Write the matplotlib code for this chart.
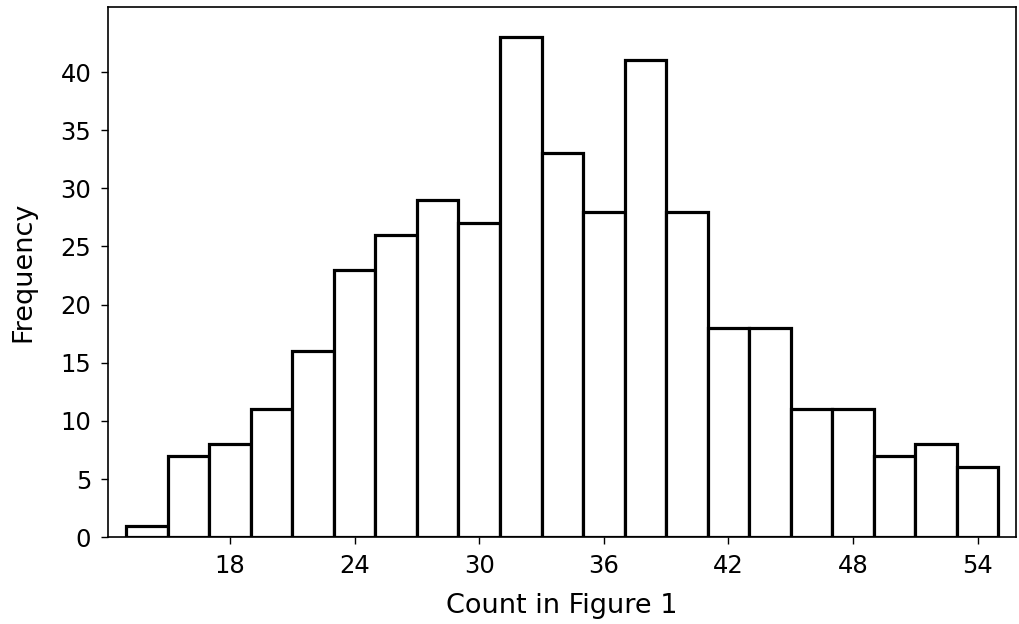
import numpy as np
import matplotlib.pyplot as plt

# histogram of counts, bins of width 2 starting at 13
bin_edges = np.arange(13, 57, 2)
frequency = [1, 7, 8, 11, 16, 23, 26, 29, 27, 43, 33, 28, 41, 28, 18, 18, 11, 11, 7, 8, 6]
xticks = [18, 24, 30, 36, 42, 48, 54]
yticks = [0, 5, 10, 15, 20, 25, 30, 35, 40]

plt.rcParams["font.family"] = "DejaVu Sans"

fig = plt.figure(figsize=(10.19, 6.24), dpi=100)
ax = fig.add_axes([0.106, 0.139, 0.891, 0.85])

ax.bar(bin_edges[:-1], frequency, width=2, align="edge",
       facecolor="white", edgecolor="black", linewidth=2.3)

ax.set_xlim(12.13, 55.84)
ax.set_ylim(0, 45.6)
ax.set_xticks(xticks)
ax.set_yticks(yticks)
ax.tick_params(direction="out", length=5, width=1, labelsize=17.5, pad=7)

for s in ax.spines.values():
    s.set_linewidth(1.2)

ax.set_xlabel("Count in Figure 1", fontsize=19.5, labelpad=11)
ax.set_ylabel("Frequency", fontsize=19.5, labelpad=17)

fig.savefig("out.png", dpi=100)
